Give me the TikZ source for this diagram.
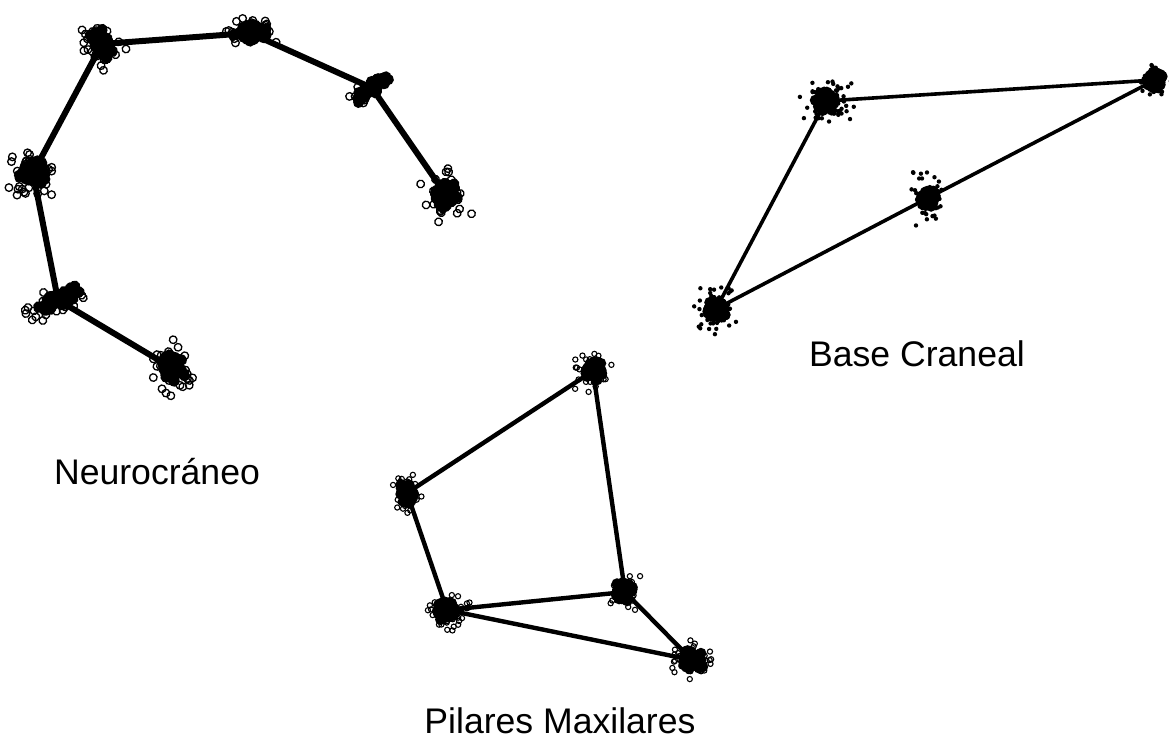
\documentclass[tikz,border=0pt]{standalone}
\usepackage{fontspec}
\setmainfont{Liberation Sans}
\begin{document}
\begin{tikzpicture}[x=0.5pt,y=-0.5pt,
  neuroline/.style={line width=3pt,line cap=round},
  baseline/.style={line width=1.8pt,line cap=round},
  pilarline/.style={line width=2.2pt,line cap=round},
  ring/.style={draw,line width=0.65pt},
  label/.style={font=\fontsize{17.8pt}{21pt}\selectfont,anchor=base}]
\useasboundingbox (0,0) rectangle (1169,748);
\pgfmathsetseed{11}

% scatter of one landmark: #1 landmark, #2 angle, #3/#4 spread of the marks,
% #5 number of marks, #6/#7 spread of the dense core, #8 mark radius, #9 mark style
\newcommand\lmcloud[9]{%
  \begin{scope}[shift={(#1)},rotate=#2]
    \foreach \k in {1,...,#5}{
      \pgfmathsetmacro\ax{#3*(rand+rand)*0.8}
      \pgfmathsetmacro\ay{#4*(rand+rand)*0.8}
      \path[#9] (\ax,\ay) circle[radius=#8];
    }
    \foreach \k in {1,...,60}{
      \pgfmathsetmacro\ax{#6*(rand+rand)*0.5}
      \pgfmathsetmacro\ay{#7*(rand+rand)*0.5}
      \fill (\ax,\ay) circle[radius=2.8pt];
    }
  \end{scope}}

% Neurocraneo landmarks
\coordinate (n1) at (102,44);
\coordinate (n2) at (250,33);
\coordinate (n3) at (372,88);
\coordinate (n4) at (446,195);
\coordinate (n5) at (33,173);
\coordinate (n6) at (58,300);
\coordinate (n7) at (172,368);
% Base craneal landmarks
\coordinate (b1) at (826,101);
\coordinate (b2) at (1155,80);
\coordinate (b3) at (928,198);
\coordinate (b4) at (716,309);
% Pilares maxilares landmarks
\coordinate (p1) at (593,371);
\coordinate (p2) at (407,493);
\coordinate (p3) at (447,610);
\coordinate (p4) at (625,592);
\coordinate (p5) at (692,660);

% outlines
\draw[neuroline] (n4) -- (n3) -- (n2) -- (n1) -- (n5) -- (n6) -- (n7);
\draw[baseline] (b4) -- (b1) -- (b2) -- (b3) -- (b4);
\draw[pilarline] (p3) -- (p2) -- (p1) -- (p4) -- (p3) -- (p5) -- (p4);

% landmark scatter, neurocraneo: open rings
\lmcloud{n1}{-60}{19}{14}{34}{16}{10}{1.9pt}{ring}
\lmcloud{n2}{5}{18}{11}{30}{18}{10}{1.9pt}{ring}
\lmcloud{n3}{40}{18}{9}{18}{24}{6}{1.9pt}{ring}
\lmcloud{n4}{-70}{19}{15}{42}{14}{12}{1.9pt}{ring}
\lmcloud{n5}{0}{17}{16}{42}{14}{13}{1.9pt}{ring}
\lmcloud{n6}{25}{24}{10}{30}{26}{7}{1.9pt}{ring}
\lmcloud{n7}{-80}{20}{17}{46}{16}{13}{1.9pt}{ring}
% base craneal: small dots
\lmcloud{b1}{0}{20}{17}{65}{11}{11}{1.1pt}{fill}
\lmcloud{b2}{0}{11}{12}{36}{8}{9}{1.1pt}{fill}
\lmcloud{b3}{90}{20}{11}{55}{10}{8}{1.1pt}{fill}
\lmcloud{b4}{0}{17}{17}{60}{10}{10}{1.1pt}{fill}
% pilares maxilares: small rings
\lmcloud{p1}{0}{14}{14}{36}{9}{10}{1.3pt}{draw,line width=0.55pt}
\lmcloud{p2}{0}{12}{14}{32}{8}{10}{1.3pt}{draw,line width=0.55pt}
\lmcloud{p3}{0}{15}{14}{40}{11}{10}{1.3pt}{draw,line width=0.55pt}
\lmcloud{p4}{0}{12}{14}{36}{9}{10}{1.3pt}{draw,line width=0.55pt}
\lmcloud{p5}{0}{17}{15}{42}{12}{11}{1.3pt}{draw,line width=0.55pt}

% group names
\node[label] (tneuro) at (157,485) {Neurocráneo};
\node[label] (tbase) at (917,367) {Base Craneal};
\node[label] (tpilar) at (560,734) {Pilares Maxilares};
\end{tikzpicture}
\end{document}
